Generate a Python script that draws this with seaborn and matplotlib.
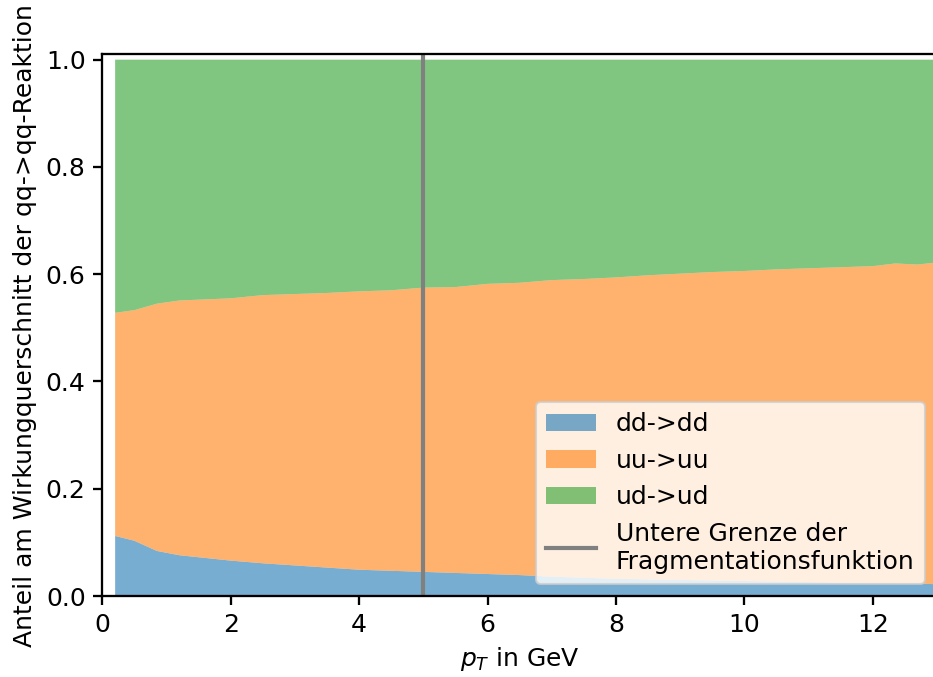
import matplotlib
matplotlib.use("Agg")
import matplotlib.pyplot as plt
import seaborn as sns
import numpy as np

pt = [0.2, 0.5, 0.85, 1.2, 1.6, 2.0, 2.5, 3.0, 3.5, 4.0, 4.5, 5.0, 5.5, 6.0,
      6.5, 7.0, 7.5, 8.0, 8.5, 9.0, 9.5, 10.0, 10.5, 11.0, 11.5, 12.0, 12.35,
      12.7, 13.0]
dd = [0.112, 0.103, 0.084, 0.076, 0.071, 0.066, 0.061, 0.057, 0.053, 0.049,
      0.047, 0.045, 0.043, 0.041, 0.039, 0.036, 0.034, 0.032, 0.031, 0.030,
      0.029, 0.028, 0.027, 0.026, 0.025, 0.024, 0.024, 0.023, 0.022]
uu = [0.416, 0.430, 0.461, 0.475, 0.482, 0.489, 0.500, 0.506, 0.512, 0.519,
      0.523, 0.530, 0.533, 0.541, 0.545, 0.553, 0.557, 0.562, 0.567, 0.571,
      0.575, 0.578, 0.582, 0.585, 0.588, 0.591, 0.596, 0.595, 0.600]
ud = [0.472, 0.467, 0.455, 0.449, 0.447, 0.445, 0.439, 0.437, 0.435, 0.432,
      0.430, 0.425, 0.424, 0.418, 0.416, 0.411, 0.409, 0.406, 0.402, 0.399,
      0.396, 0.394, 0.391, 0.389, 0.387, 0.385, 0.380, 0.382, 0.378]
labels = ["dd->dd", "uu->uu", "ud->ud"]
cut_label = "Untere Grenze der\nFragmentationsfunktion"
cut_value = 5.0

plt.rcParams["font.family"] = ["DejaVu Sans"]
plt.rcParams["font.size"] = 12
plt.rcParams["axes.linewidth"] = 1.1
plt.rcParams["xtick.major.width"] = 1.1
plt.rcParams["ytick.major.width"] = 1.1
plt.rcParams["xtick.major.size"] = 4.5
plt.rcParams["ytick.major.size"] = 4.5
pal = sns.color_palette("tab10", 3)

fig = plt.figure(figsize=(933 / 150, 677 / 150), dpi=150)
ax = fig.add_axes([102.3 / 933, 1 - 596 / 677, (937 - 102.3) / 933, (596 - 54.3) / 677])

polys = ax.stackplot(pt, dd, uu, ud, labels=labels, colors=pal, alpha=0.6)
vline = ax.axvline(cut_value, color="grey", linewidth=2, label=cut_label)

ax.set_xlim(0, 13)
ax.set_ylim(0, 1.01)
ax.set_xticks([0, 2, 4, 6, 8, 10, 12])
ax.set_yticks([0.0, 0.2, 0.4, 0.6, 0.8, 1.0])
ax.set_xlabel("$p_T$ in GeV")
ax.set_ylabel("Anteil am Wirkungquerschnitt der qq->qq-Reaktion")
ax.legend(handles=list(polys) + [vline], loc="lower right")

fig.savefig("out.png", dpi=150)
